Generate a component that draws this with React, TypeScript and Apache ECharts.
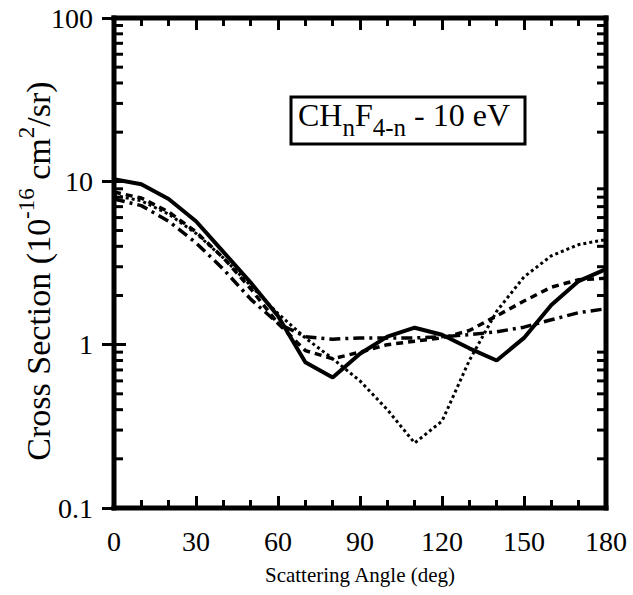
import React, { useEffect, useRef } from "react";
import * as echarts from "echarts";

const angles = [0, 10, 20, 30, 40, 50, 60, 70, 80, 90, 100, 110, 120, 130, 140, 150, 160, 170, 180];
const solidVals = [10.3, 9.6, 7.8, 5.7, 3.7, 2.4, 1.5, 0.78, 0.63, 0.88, 1.12, 1.27, 1.15, 0.95, 0.8, 1.1, 1.75, 2.45, 2.9];
const dashedVals = [8.6, 7.9, 6.5, 4.9, 3.4, 2.2, 1.35, 0.92, 0.82, 0.9, 1.0, 1.05, 1.1, 1.22, 1.5, 1.85, 2.25, 2.5, 2.55];
const dottedVals = [8.2, 7.6, 6.3, 4.8, 3.4, 2.3, 1.55, 1.1, 0.82, 0.6, 0.4, 0.25, 0.34, 0.8, 1.6, 2.6, 3.5, 4.1, 4.4];
const dashDotVals = [7.8, 7.1, 5.7, 4.2, 2.9, 1.9, 1.35, 1.12, 1.08, 1.1, 1.1, 1.1, 1.12, 1.15, 1.2, 1.28, 1.42, 1.57, 1.66];
const yMinorTickValues = [0.2, 0.3, 0.4, 0.5, 0.6, 0.7, 0.8, 0.9, 2, 3, 4, 5, 6, 7, 8, 9, 20, 30, 40, 50, 60, 70, 80, 90];

const FONT = "Liberation Serif";
const G = { left: 114, right: 27, top: 18, bottom: 87 };
const W = 633;
const H = 595;
const FW = 5;

export default function App() {
  const ref = useRef<HTMLDivElement>(null);
  useEffect(() => {
    if (!ref.current) return;
    const chart = echarts.init(ref.current, null, { renderer: "svg" });
    const toData = (vals: number[]) => angles.map((a, i) => [a, vals[i]]);
    const tickStyle = { color: "#000", width: 3 };
    const xCommon = {
      type: "value",
      min: 0,
      max: 180,
      interval: 30,
      axisLine: { show: false },
      splitLine: { show: false },
      axisTick: { show: true, inside: true, length: 12, lineStyle: tickStyle },
      minorTick: { show: true, splitNumber: 3, length: 8, lineStyle: tickStyle },
    };
    const yCommon = {
      type: "log",
      logBase: 10,
      min: 0.1,
      max: 100,
      axisLine: { show: false },
      splitLine: { show: false },
      axisTick: { show: true, inside: true, length: 12, lineStyle: tickStyle },
    };
    const xl = G.left;
    const xr = W - G.right;
    const yt = G.top;
    const yb = H - G.bottom;
    const h = FW / 2;
    const frameBars = [
      { x: xl - h, y: yt - h, width: xr - xl + FW, height: FW },
      { x: xl - h, y: yb - h, width: xr - xl + FW, height: FW },
      { x: xl - h, y: yt - h, width: FW, height: yb - yt + FW },
      { x: xr - h, y: yt - h, width: FW, height: yb - yt + FW },
    ].map((s) => ({ type: "rect", shape: s, style: { fill: "#000" }, z: 60 }));
    chart.setOption({
      animation: false,
      textStyle: { fontFamily: FONT, color: "#000" },
      grid: { left: G.left, right: G.right, top: G.top, bottom: G.bottom, show: false },
      xAxis: [
        {
          ...xCommon,
          position: "bottom",
          axisLabel: { show: true, margin: 19, fontSize: 28, fontFamily: FONT, color: "#000" },
          name: "Scattering Angle (deg)",
          nameLocation: "middle",
          nameGap: 56,
          nameTextStyle: { fontSize: 21, fontFamily: FONT, color: "#000" },
        },
        { ...xCommon, position: "top", axisLabel: { show: false } },
      ],
      yAxis: [
        {
          ...yCommon,
          position: "left",
          axisLabel: {
            show: true,
            margin: 21,
            fontSize: 28,
            fontFamily: FONT,
            color: "#000",
            formatter: (v: number) => String(v),
          },
        },
        { ...yCommon, position: "right", axisLabel: { show: false } },
      ],
      series: [
        { type: "line", data: toData(solidVals), symbol: "none", lineStyle: { color: "#000", width: 4, type: "solid" } },
        { type: "line", data: toData(dashedVals), symbol: "none", lineStyle: { color: "#000", width: 3.5, type: [7, 5] } },
        { type: "line", data: toData(dottedVals), symbol: "none", lineStyle: { color: "#000", width: 3, type: [3, 3] } },
        { type: "line", data: toData(dashDotVals), symbol: "none", lineStyle: { color: "#000", width: 3.5, type: [11, 5, 3, 5] } },
        {
          type: "custom",
          silent: true,
          clip: false,
          z: 10,
          data: yMinorTickValues.map((v) => [0, v]),
          encode: { x: 0, y: 1 },
          renderItem: (params: any, api: any) => {
            const v = api.value(1);
            const pl = api.coord([0, v]);
            const pr = api.coord([180, v]);
            return {
              type: "group",
              children: [
                { type: "rect", shape: { x: pl[0], y: pl[1] - 1.5, width: 9, height: 3 }, style: { fill: "#000" } },
                { type: "rect", shape: { x: pr[0] - 9, y: pr[1] - 1.5, width: 9, height: 3 }, style: { fill: "#000" } },
              ],
            };
          },
        },
      ],
      graphic: [
        ...frameBars,
        {
          type: "text",
          x: 35,
          y: 271,
          rotation: Math.PI / 2,
          z: 60,
          style: {
            text: "{a|Cross Section (10}{s|-16}{a| cm}{s|2}{a|/sr)}",
            align: "center",
            verticalAlign: "middle",
            fontFamily: FONT,
            fill: "#000",
            rich: {
              a: { fontSize: 34, lineHeight: 34, fontFamily: FONT, fill: "#000", verticalAlign: "bottom" },
              s: { fontSize: 23, lineHeight: 41, fontFamily: FONT, fill: "#000", verticalAlign: "top" },
            },
          },
        },
        {
          type: "rect",
          shape: { x: 291, y: 97, width: 234, height: 47 },
          style: { fill: "#fff", stroke: "#000", lineWidth: 3 },
          z: 100,
        },
        {
          type: "text",
          x: 298,
          y: 99,
          z: 101,
          style: {
            text: "{a|CH}{s|n}{a|F}{s|4-n}{a| - 10 eV}",
            fontFamily: FONT,
            fill: "#000",
            rich: {
              a: { fontSize: 32, lineHeight: 32, fontFamily: FONT, fill: "#000", verticalAlign: "top" },
              s: { fontSize: 25, lineHeight: 41, fontFamily: FONT, fill: "#000", verticalAlign: "bottom" },
            },
          },
        },
      ],
    });
    return () => chart.dispose();
  }, []);
  return <div ref={ref} style={{ position: "fixed", left: 0, top: 0, width: W, height: H, background: "#fff" }} />;
}
